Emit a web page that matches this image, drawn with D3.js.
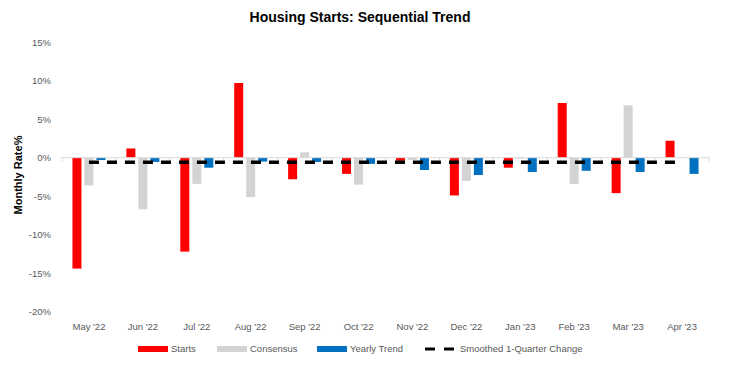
<!DOCTYPE html>
<html>
<head>
<meta charset="utf-8">
<script src="https://cdn.jsdelivr.net/npm/d3@7"></script>
<style>
  body { margin: 0; background: #fff; }
  text { font-family: 'Liberation Sans', Arial, sans-serif; }
</style>
</head>
<body>
<div id="chart"></div>
<script>
const months = ["May '22", "Jun '22", "Jul '22", "Aug '22", "Sep '22", "Oct '22",
    "Nov '22", "Dec '22", "Jan '23", "Feb '23", "Mar '23", "Apr '23"];
const starts = [-14.4, 1.2, -12.2, 9.7, -2.8, -2.1, -0.4, -4.9, -1.3, 7.1, -4.6, 2.2];
const consensus = [-3.6, -6.7, -3.4, -5.1, 0.7, -3.5, -0.3, -3.0, -0.1, -3.4, 6.8, 0];
const yearlyTrend = [-0.3, -0.55, -1.3, -0.5, -0.55, -0.8, -1.6, -2.25, -1.85, -1.7, -1.85, -2.1];
const smoothed = [-0.6, -0.6, -0.6, -0.6, -0.6, -0.6, -0.6, -0.6, -0.6, -0.6, -0.6, -0.6];
const yTicks = [-20, -15, -10, -5, 0, 5, 10, 15];

const seriesNames = ['Starts', 'Consensus', 'Yearly Trend'];
const seriesColors = ['#ff0000', '#d3d3d3', '#0070c0'];
const seriesValues = [starts, consensus, yearlyTrend];

const width = 743;
const height = 378;

const svg = d3.select('#chart')
    .append('svg')
    .attr('width', width)
    .attr('height', height);

const x = d3.scaleBand()
    .domain(months)
    .range([62, 709])
    .padding(0);

const inner = d3.scaleBand()
    .domain(seriesNames)
    .range([0, 33])
    .paddingInner(0.25)
    .paddingOuter(0);

const y = d3.scaleLinear()
    .domain([-20, 15])
    .range([311.7, 42.2]);

// title
svg.append('text')
    .attr('x', 360)
    .attr('y', 22)
    .attr('text-anchor', 'middle')
    .style('font-size', '14px')
    .style('font-weight', 'bold')
    .attr('fill', '#000')
    .text('Housing Starts: Sequential Trend');

// y axis label
svg.append('text')
    .attr('transform', 'translate(22,175) rotate(-90)')
    .attr('text-anchor', 'middle')
    .style('font-size', '11px')
    .style('font-weight', 'bold')
    .text('Monthly Rate%');

// y tick labels (no axis line)
svg.append('g')
    .selectAll('text')
    .data(yTicks)
    .enter()
    .append('text')
    .attr('x', 51)
    .attr('y', d => y(d))
    .attr('dy', '0.35em')
    .attr('text-anchor', 'end')
    .attr('fill', '#595959')
    .style('font-size', '9.5px')
    .text(d => d + '%');

// bars
const groups = svg.append('g')
    .selectAll('g')
    .data(months)
    .enter()
    .append('g')
    .attr('transform', d => 'translate(' + (x(d) + x.bandwidth() / 2 - 16.5) + ',0)');

groups.selectAll('rect')
    .data((m, i) => seriesNames.map((s, k) => ({ s: s, v: seriesValues[k][i], c: seriesColors[k] })))
    .enter()
    .append('rect')
    .attr('x', d => inner(d.s))
    .attr('width', inner.bandwidth())
    .attr('y', d => y(Math.max(0, d.v)))
    .attr('height', d => Math.abs(y(d.v) - y(0)))
    .attr('fill', d => d.c);

// zero axis with category ticks
const axisG = svg.append('g')
    .attr('transform', 'translate(0,' + y(0) + ')');
axisG.append('line')
    .attr('x1', x.range()[0])
    .attr('x2', x.range()[1])
    .attr('stroke', '#d9d9d9')
    .attr('stroke-width', 1);
axisG.selectAll('.cat-tick')
    .data(months.concat(['end']))
    .enter()
    .append('line')
    .attr('class', 'cat-tick')
    .attr('x1', (d, i) => x.range()[0] + i * x.step())
    .attr('x2', (d, i) => x.range()[0] + i * x.step())
    .attr('y1', 0)
    .attr('y2', 4)
    .attr('stroke', '#d9d9d9');

// smoothed dashed line
const line = d3.line()
    .x((d, i) => x(months[i]) + x.bandwidth() / 2)
    .y(d => y(d));
svg.append('path')
    .datum(smoothed)
    .attr('d', line)
    .attr('fill', 'none')
    .attr('stroke', '#000')
    .attr('stroke-width', 3.5)
    .attr('stroke-dasharray', '10,8');

// x labels
svg.append('g')
    .selectAll('text')
    .data(months)
    .enter()
    .append('text')
    .attr('x', d => x(d) + x.bandwidth() / 2)
    .attr('y', 330)
    .attr('text-anchor', 'middle')
    .attr('fill', '#595959')
    .style('font-size', '9.5px')
    .text(d => d);

// legend
const legendItems = [
    { name: 'Starts', color: '#ff0000', x: 138, dash: false },
    { name: 'Consensus', color: '#d3d3d3', x: 217, dash: false },
    { name: 'Yearly Trend', color: '#0070c0', x: 317, dash: false },
    { name: 'Smoothed 1-Quarter Change', color: '#000', x: 425, dash: true }
];
const legend = svg.append('g')
    .selectAll('g')
    .data(legendItems)
    .enter()
    .append('g')
    .attr('transform', d => 'translate(' + d.x + ',349)');

legend.filter(d => !d.dash)
    .append('rect')
    .attr('x', 0)
    .attr('y', -3)
    .attr('width', 30)
    .attr('height', 6)
    .attr('fill', d => d.color);

legend.filter(d => d.dash)
    .append('line')
    .attr('x1', 0)
    .attr('x2', 29)
    .attr('y1', 0)
    .attr('y2', 0)
    .attr('stroke', '#000')
    .attr('stroke-width', 3)
    .attr('stroke-dasharray', '10,9');

legend.append('text')
    .attr('x', d => d.dash ? 35 : 33)
    .attr('y', 0)
    .attr('dy', '0.35em')
    .attr('fill', '#595959')
    .style('font-size', '9.5px')
    .text(d => d.name);
</script>
</body>
</html>
